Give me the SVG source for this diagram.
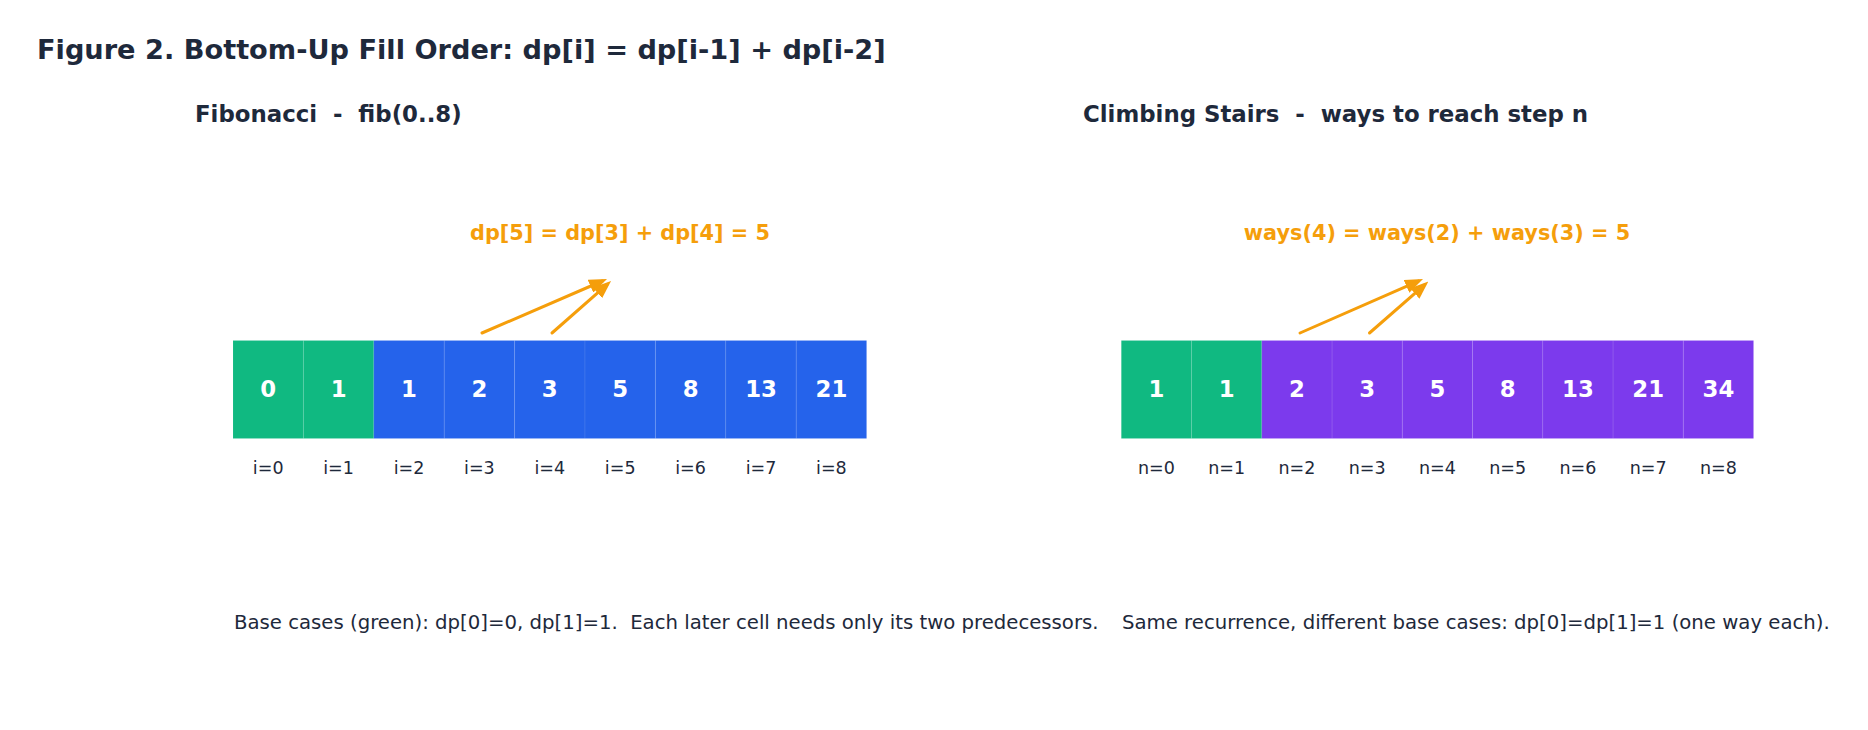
<svg xmlns="http://www.w3.org/2000/svg" width="1868" height="730" viewBox="0 0 1868 730">
<style>
text{font-family:"DejaVu Sans","Liberation Sans",sans-serif}
.title{font-size:27.2px;font-weight:bold;fill:#1e293b}
.sub{font-size:22.85px;font-weight:bold;fill:#1e293b}
.formula{font-size:20.8px;font-weight:bold;fill:#f59e0b;text-anchor:middle}
.val{font-size:22.8px;font-weight:bold;fill:#ffffff;text-anchor:middle}
.idx{font-size:17.5px;fill:#1e293b;text-anchor:middle}
.cap{font-size:19.7px;fill:#1e293b}
.base{fill:#10b981}
.fib{fill:#2563eb}
.stair{fill:#7c3aed}
rect{stroke:#ffffff;stroke-opacity:0.08;stroke-width:1}
.arr{stroke:#f59e0b;stroke-width:3;fill:none;stroke-linecap:round;marker-end:url(#ah)}
</style>
<defs>
<marker id="ah" viewBox="0 0 18 14" refX="13" refY="7" markerWidth="18" markerHeight="14" markerUnits="userSpaceOnUse" orient="auto">
<path d="M0,0 L18,7 L0,14 z" fill="#f59e0b"/>
</marker>
</defs>
<rect width="1868" height="730" fill="#ffffff" stroke="none"/>
<text class="title" x="37" y="59">Figure 2. Bottom-Up Fill Order: dp[i] = dp[i-1] + dp[i-2]</text>
<text class="sub" x="195" y="122" xml:space="preserve">Fibonacci  -  fib(0..8)</text>
<text class="sub" x="1083" y="122" xml:space="preserve">Climbing Stairs  -  ways to reach step n</text>

<g id="fib-cells">
<g id="fib0"><rect class="base" x="233" y="340.5" width="70.4" height="98"/><text class="val" x="268.2" y="397">0</text><text class="idx" x="268.2" y="474">i=0</text></g>
<g id="fib1"><rect class="base" x="303.4" y="340.5" width="70.4" height="98"/><text class="val" x="338.6" y="397">1</text><text class="idx" x="338.6" y="474">i=1</text></g>
<g id="fib2"><rect class="fib" x="373.8" y="340.5" width="70.4" height="98"/><text class="val" x="409" y="397">1</text><text class="idx" x="409" y="474">i=2</text></g>
<g id="fib3"><rect class="fib" x="444.2" y="340.5" width="70.4" height="98"/><text class="val" x="479.4" y="397">2</text><text class="idx" x="479.4" y="474">i=3</text></g>
<g id="fib4"><rect class="fib" x="514.6" y="340.5" width="70.4" height="98"/><text class="val" x="549.8" y="397">3</text><text class="idx" x="549.8" y="474">i=4</text></g>
<g id="fib5"><rect class="fib" x="585" y="340.5" width="70.4" height="98"/><text class="val" x="620.2" y="397">5</text><text class="idx" x="620.2" y="474">i=5</text></g>
<g id="fib6"><rect class="fib" x="655.4" y="340.5" width="70.4" height="98"/><text class="val" x="690.6" y="397">8</text><text class="idx" x="690.6" y="474">i=6</text></g>
<g id="fib7"><rect class="fib" x="725.8" y="340.5" width="70.4" height="98"/><text class="val" x="761" y="397">13</text><text class="idx" x="761" y="474">i=7</text></g>
<g id="fib8"><rect class="fib" x="796.2" y="340.5" width="70.4" height="98"/><text class="val" x="831.4" y="397">21</text><text class="idx" x="831.4" y="474">i=8</text></g>
</g>

<g id="stair-cells">
<g id="st0"><rect class="base" x="1121.3" y="340.5" width="70.25" height="98"/><text class="val" x="1156.4" y="397">1</text><text class="idx" x="1156.4" y="474">n=0</text></g>
<g id="st1"><rect class="base" x="1191.55" y="340.5" width="70.25" height="98"/><text class="val" x="1226.7" y="397">1</text><text class="idx" x="1226.7" y="474">n=1</text></g>
<g id="st2"><rect class="stair" x="1261.8" y="340.5" width="70.25" height="98"/><text class="val" x="1296.9" y="397">2</text><text class="idx" x="1296.9" y="474">n=2</text></g>
<g id="st3"><rect class="stair" x="1332.05" y="340.5" width="70.25" height="98"/><text class="val" x="1367.2" y="397">3</text><text class="idx" x="1367.2" y="474">n=3</text></g>
<g id="st4"><rect class="stair" x="1402.3" y="340.5" width="70.25" height="98"/><text class="val" x="1437.4" y="397">5</text><text class="idx" x="1437.4" y="474">n=4</text></g>
<g id="st5"><rect class="stair" x="1472.55" y="340.5" width="70.25" height="98"/><text class="val" x="1507.7" y="397">8</text><text class="idx" x="1507.7" y="474">n=5</text></g>
<g id="st6"><rect class="stair" x="1542.8" y="340.5" width="70.25" height="98"/><text class="val" x="1577.9" y="397">13</text><text class="idx" x="1577.9" y="474">n=6</text></g>
<g id="st7"><rect class="stair" x="1613.05" y="340.5" width="70.25" height="98"/><text class="val" x="1648.2" y="397">21</text><text class="idx" x="1648.2" y="474">n=7</text></g>
<g id="st8"><rect class="stair" x="1683.3" y="340.5" width="70.25" height="98"/><text class="val" x="1718.4" y="397">34</text><text class="idx" x="1718.4" y="474">n=8</text></g>
</g>

<g id="formula-fib"><text class="formula" x="620" y="240">dp[5] = dp[3] + dp[4] = 5</text></g>
<g id="formula-stair"><text class="formula" x="1437" y="240">ways(4) = ways(2) + ways(3) = 5</text></g>

<g id="connectors">
<line class="arr" x1="482" y1="333" x2="602.4" y2="281"/>
<line class="arr" x1="552" y1="333" x2="607.3" y2="284.3"/>
<line class="arr" x1="1300" y1="333" x2="1418.4" y2="281.1"/>
<line class="arr" x1="1369.5" y1="333" x2="1424.6" y2="284.9"/>
</g>

<text class="cap" x="234" y="629" xml:space="preserve">Base cases (green): dp[0]=0, dp[1]=1.  Each later cell needs only its two predecessors.</text>
<text class="cap" x="1122" y="629" xml:space="preserve">Same recurrence, different base cases: dp[0]=dp[1]=1 (one way each).</text>
</svg>
